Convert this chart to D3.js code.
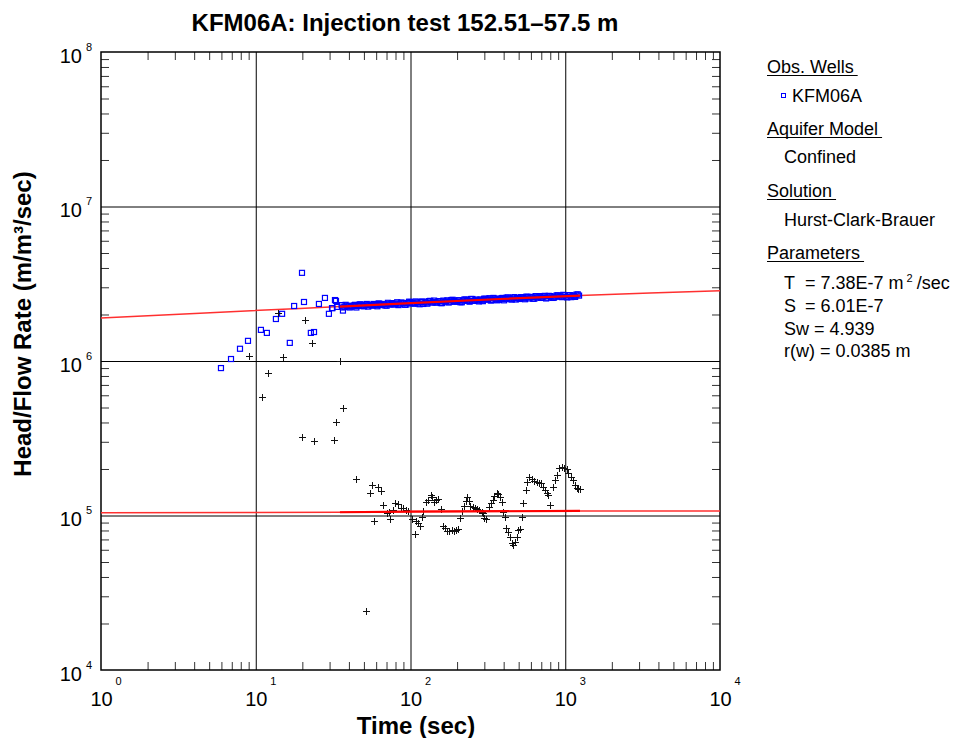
<!DOCTYPE html>
<html><head><meta charset="utf-8">
<script src="https://cdn.jsdelivr.net/npm/d3@7"></script>
<style>body{margin:0;background:#fff} svg{display:block} text{font-family:"Liberation Sans",Arial,sans-serif}</style>
</head><body>
<svg id="c" width="973" height="738"></svg>
<script>
// Observed head/flow rate (KFM06A) - time (sec)
const obsT = [5.96,6.92,7.91,8.91,10.8,11.8,13.5,14.8,16.6,17.7,19.9,20.5,22.7,23.8,25.6,28.0,29.7,31.1,31.3,32.5,33.0,33.5,36.0,36.6,
  36,37.4,38.9,40.5,42.1,43.8,45.6,47.4,49.3,51.2,53.3,55.4,57.6,59.9,62.3,64.8,67.4,70.1,72.9,75.8,78.9,82.0,85.3,88.7,92.3,96.0,99.8,103.8,
  108,112,117,121,126,131,137,142,148,154,160,166,173,180,187,194,202,210,219,227,236,246,256,266,277,288,299,311,324,337,350,364,379,394,
  410,426,443,461,479,498,518,539,561,583,606,631,656,682,709,738,767,798,830,863,898,934,971,1010,1050,1092,1136,1181,1228,
  36.7,38.1,39.7,41.3,42.9,44.7,46.5,48.3,50.2,52.2,54.3,56.5,58.7,61.1,63.5,66.1,68.7,71.5,74.3,77.3,80.4,83.6,87.0,90.5,94.1,97.9,101.8,105.9,
  110,114.5,119,123.5,128.5,134,139.5,145,151,157,163,169.5,176.5,183.5,190.5,198,206,214.5,223,231.5,241,251,261,271.5,282.5,293.5,305,317.5,330.5,343.5,357,371.5,386.5,
  402,418,434.5,452,470,488.5,508,528.5,550,572,594.5,618.5,643.5,669,695.5,723.5,752.5,782.5,814,846.5,880.5,916,952.5,990.5,1030,1071,1114,1158.5,1204.5];
const obsV = [9.0e5,1.03e6,1.20e6,1.35e6,1.59e6,1.52e6,1.87e6,2.02e6,1.31e6,2.27e6,3.72e6,2.41e6,1.52e6,1.54e6,2.34e6,2.56e6,2.02e6,2.20e6,2.20e6,2.48e6,2.45e6,2.24e6,2.30e6,2.12e6,
  2.30e6,2.24e6,2.28e6,2.22e6,2.27e6,2.31e6,2.27e6,2.33e6,2.27e6,2.31e6,2.25e6,2.30e6,2.34e6,2.30e6,2.36e6,2.30e6,2.34e6,2.28e6,2.33e6,2.37e6,2.33e6,2.40e6,2.33e6,2.38e6,2.31e6,2.37e6,2.41e6,2.36e6,
  2.43e6,2.36e6,2.41e6,2.34e6,2.39e6,2.44e6,2.39e6,2.46e6,2.39e6,2.44e6,2.37e6,2.42e6,2.47e6,2.42e6,2.49e6,2.42e6,2.47e6,2.40e6,2.46e6,2.50e6,2.45e6,2.52e6,2.45e6,2.50e6,2.43e6,2.49e6,2.53e6,2.49e6,2.55e6,2.48e6,2.54e6,2.47e6,2.52e6,2.56e6,
  2.52e6,2.58e6,2.51e6,2.57e6,2.50e6,2.55e6,2.59e6,2.55e6,2.61e6,2.54e6,2.60e6,2.53e6,2.58e6,2.63e6,2.58e6,2.64e6,2.57e6,2.63e6,2.56e6,2.61e6,2.66e6,2.61e6,2.68e6,2.60e6,2.66e6,2.59e6,2.64e6,2.69e6,2.65e6,
  2.22e6,2.31e6,2.26e6,2.25e6,2.29e6,2.22e6,2.31e6,2.29e6,2.26e6,2.34e6,2.30e6,2.28e6,2.33e6,2.26e6,2.34e6,2.33e6,2.29e6,2.38e6,2.33e6,2.32e6,2.36e6,2.30e6,2.39e6,2.37e6,2.32e6,2.42e6,2.37e6,2.35e6,
  2.40e6,2.33e6,2.43e6,2.40e6,2.35e6,2.45e6,2.40e6,2.39e6,2.43e6,2.37e6,2.46e6,2.43e6,2.39e6,2.48e6,2.44e6,2.42e6,2.47e6,2.40e6,2.50e6,2.47e6,2.42e6,2.52e6,2.47e6,2.46e6,2.50e6,2.44e6,2.53e6,2.51e6,2.46e6,2.56e6,2.51e6,2.49e6,2.55e6,
  2.47e6,2.57e6,2.54e6,2.50e6,2.59e6,2.55e6,2.52e6,2.58e6,2.51e6,2.60e6,2.58e6,2.53e6,2.63e6,2.58e6,2.56e6,2.62e6,2.54e6,2.64e6,2.61e6,2.57e6,2.66e6,2.62e6,2.59e6,2.66e6,2.58e6,2.67e6,2.65e6,2.60e6,2.70e6];
// Derivative (black crosses)
const derT = [9.04,10.97,12.0,13.9,15.0,19.9,20.8,23.1,23.8,32.0,33.0,35.0,36.6,44.4,51.6,54.7,56.4,58.1,61.7,64.5,66.4,70.5,72.6,73.7,77.1,79.4,83.1,86.8,89.4,93.5,96.3,
  102.2,106.9,108.5,111.8,115.2,118.7,120.4,126.0,129.8,135.7,137.7,141.9,146.1,150.5,157.4,162.2,167.1,172.2,177.4,185.4,191.0,196.8,202.7,208.9,215.2,221.7,228.4,231.8,238.8,242.4,253.4,261.1,269.0,277.1,289.8,294.1,298.5,307.5,
  321.6,331.3,341.3,346.4,362.2,367.7,378.8,390.2,396.0,408.0,414.1,426.6,439.5,452.8,459.6,473.4,487.7,495.0,510.0,525.4,533.3,557.7,566.0,583.2,609.8,628.3,656.9,676.9,697.3,718.4,740.0,762.4,773.8,797.1,
  833.4,858.6,884.5,911.3,952.8,981.5,1026,1042,1089,1122,1156,1191,1209,1245];
const derV = [1.08e6,5.85e5,8.36e5,2.05e6,1.06e6,3.22e5,1.84e6,1.31e6,3.04e5,3.08e5,4.03e5,1.0e6,4.96e5,1.72e5,2.41e4,1.40e5,1.58e5,9.21e4,1.53e5,1.44e5,1.17e5,1.04e5,1.05e5,9.49e4,1.09e5,1.20e5,1.19e5,1.12e5,1.12e5,1.09e5,1.07e5,
  9.49e4,7.59e4,9.21e4,8.94e4,8.55e4,9.78e4,1.07e5,1.22e5,1.26e5,1.36e5,1.32e5,1.22e5,1.26e5,1.28e5,1.10e5,8.55e4,8.30e4,7.94e4,7.94e4,8.06e4,7.94e4,8.06e4,8.18e4,9.63e4,1.07e5,1.15e5,1.24e5,1.32e5,1.24e5,1.15e5,1.14e5,1.12e5,1.10e5,1.09e5,1.05e5,1.04e5,9.63e4,9.49e4,
  1.14e5,1.20e5,1.26e5,1.34e5,1.40e5,1.38e5,1.32e5,1.22e5,1.05e5,9.78e4,8.30e4,7.82e4,7.26e4,6.64e4,6.44e4,6.74e4,7.26e4,8.06e4,8.18e4,9.78e4,1.20e5,1.46e5,1.65e5,1.77e5,1.72e5,1.67e5,1.65e5,1.62e5,1.62e5,1.53e5,1.46e5,1.40e5,1.36e5,1.17e5,
  1.53e5,1.70e5,1.83e5,2.03e5,2.06e5,2.03e5,2.0e5,1.88e5,1.77e5,1.70e5,1.58e5,1.51e5,1.48e5,1.48e5];
// Fitted type curve and its derivative (red)
const fitT = [1,4.36,19.3,35,85.5,379,1245,3529,10000];
const fitV = [1.90e6,2.04e6,2.19e6,2.25e6,2.35e6,2.52e6,2.65e6,2.75e6,2.85e6];
const dfitT = [1,35,100,1245,10000];
const dfitV = [1.04e5,1.05e5,1.06e5,1.07e5,1.07e5];
const dataRange = [35,1245];
// Axes
const xDecades = [1,10,100,1000,10000], xExp = ["0","1","2","3","4"];
const yDecades = [1e4,1e5,1e6,1e7,1e8], yExp = ["4","5","6","7","8"];
const title = "KFM06A: Injection test 152.51\u201357.5 m";
const xTitle = "Time (sec)", yTitle = "Head/Flow Rate (m/m\u00b3/sec)";

const svg = d3.select("#c");
const L=101,R=720,T=52,B=670;
const x = d3.scaleLog().domain([1,1e4]).range([L,R]);
const y = d3.scaleLog().domain([1e4,1e8]).range([B,T]);

const minorX=[], minorY=[];
xDecades.slice(0,-1).forEach(d=>{for(let m=2;m<10;m++)minorX.push(d*m);});
yDecades.slice(0,-1).forEach(d=>{for(let m=2;m<10;m++)minorY.push(d*m);});

function clean(g){g.select(".domain").remove();}
// grid lines
svg.append("g").attr("transform",`translate(0,${B})`)
  .call(d3.axisBottom(x).tickValues(xDecades.slice(1,-1)).tickSize(-(B-T)).tickFormat(""))
  .call(clean).selectAll("line").attr("stroke","#000").attr("stroke-width",1);
svg.append("g").attr("transform",`translate(${L},0)`)
  .call(d3.axisLeft(y).tickValues(yDecades.slice(1,-1)).tickSize(-(R-L)).tickFormat(""))
  .call(clean).selectAll("line").attr("stroke","#000").attr("stroke-width",1);
// minor ticks inward on all sides
const tk=8;
[[d3.axisBottom(x),`translate(0,${B})`,minorX],[d3.axisTop(x),`translate(0,${T})`,minorX],
 [d3.axisLeft(y),`translate(${L},0)`,minorY],[d3.axisRight(y),`translate(${R},0)`,minorY]].forEach(([ax,tr,vals])=>{
  svg.append("g").attr("transform",tr).call(ax.tickValues(vals).tickSize(-tk).tickFormat(""))
    .call(clean).selectAll("line").attr("stroke","#333").attr("stroke-width",1);
});
svg.append("rect").attr("x",L).attr("y",T).attr("width",R-L).attr("height",B-T)
  .attr("fill","none").attr("stroke","#000").attr("stroke-width",1.5);

// tick labels
const xl = svg.append("g").attr("transform",`translate(0,${B})`)
  .call(d3.axisBottom(x).tickValues(xDecades).tickSize(0).tickFormat("")).call(clean);
xl.selectAll(".tick").each(function(d,i){
  const g=d3.select(this);
  g.append("text").attr("x",0).attr("y",36).attr("text-anchor","middle").attr("font-size",20).attr("fill","#000").text("10");
  g.append("text").attr("x",14).attr("y",15).attr("text-anchor","start").attr("font-size",11).attr("fill","#000").text(xExp[i]);
});
const yl = svg.append("g").attr("transform",`translate(${L},0)`)
  .call(d3.axisLeft(y).tickValues(yDecades).tickSize(0).tickFormat("")).call(clean);
yl.selectAll(".tick").each(function(d,i){
  const g=d3.select(this);
  g.append("text").attr("x",-19).attr("y",10).attr("text-anchor","end").attr("font-size",20).attr("fill","#000").text("10");
  g.append("text").attr("x",-15).attr("y",-2).attr("text-anchor","start").attr("font-size",11).attr("fill","#000").text(yExp[i]);
});

// titles
svg.append("text").attr("x",405).attr("y",31).attr("text-anchor","middle").attr("font-size",24).attr("font-weight","bold").text(title);
svg.append("text").attr("x",416).attr("y",734).attr("text-anchor","middle").attr("font-size",24).attr("font-weight","bold").text(xTitle);
svg.append("text").attr("transform",`translate(31,324) rotate(-90)`).attr("text-anchor","middle").attr("font-size",24).attr("font-weight","bold").text(yTitle);

// clip
svg.append("clipPath").attr("id","clip").append("rect").attr("x",L).attr("y",T).attr("width",R-L).attr("height",B-T);
const plot = svg.append("g").attr("clip-path","url(#clip)");

const line = d3.line().x(d=>x(d[0])).y(d=>y(d[1]));
const fit = fitT.map((t,i)=>[t,fitV[i]]);
const dfit = dfitT.map((t,i)=>[t,dfitV[i]]);
plot.append("path").attr("d",line(fit)).attr("fill","none").attr("stroke","#ff3030").attr("stroke-width",1.5);
plot.append("path").attr("d",line(dfit)).attr("fill","none").attr("stroke","#ff3030").attr("stroke-width",1.5);

// observed squares
plot.append("g").selectAll("rect").data(obsT.map((t,i)=>[t,obsV[i]])).join("rect")
  .attr("x",d=>x(d[0])-2.5).attr("y",d=>y(d[1])-2.5).attr("width",5).attr("height",5)
  .attr("fill","none").attr("stroke","#0000ff").attr("stroke-width",1.2);
// derivative crosses
plot.append("g").selectAll("path").data(derT.map((t,i)=>[t,derV[i]])).join("path")
  .attr("d",d=>{const cx=Math.round(x(d[0]))+0.5, cy=Math.round(y(d[1]))+0.5; return `M${cx-3.5},${cy}H${cx+3.5}M${cx},${cy-3.5}V${cy+3.5}`;})
  .attr("stroke","#111").attr("stroke-width",1).attr("fill","none");

// bright red over data range
const inR = p=>p[0]>=dataRange[0]&&p[0]<=dataRange[1];
plot.append("path").attr("d",line(fit.filter(inR))).attr("fill","none").attr("stroke","#ff0000").attr("stroke-width",2.2);
plot.append("path").attr("d",line(dfit.filter(inR))).attr("fill","none").attr("stroke","#ff0000").attr("stroke-width",2.2);

// legend
const lg = svg.append("g").attr("font-size",18).attr("fill","#000");
function head(txt,yy){
  const t=lg.append("text").attr("x",767).attr("y",yy).text(txt);
  const len=t.node().getComputedTextLength();
  lg.append("line").attr("x1",767).attr("x2",767+len+4).attr("y1",yy+2.5).attr("y2",yy+2.5).attr("stroke","#000").attr("stroke-width",1);
}
head("Obs. Wells",73);
lg.append("rect").attr("x",781.5).attr("y",93.5).attr("width",4).attr("height",4).attr("fill","#fff").attr("stroke","#0000ff").attr("stroke-width",1);
lg.append("text").attr("x",792).attr("y",102).text("KFM06A");
head("Aquifer Model",135);
lg.append("text").attr("x",784).attr("y",163).text("Confined");
head("Solution",197);
lg.append("text").attr("x",784).attr("y",226).text("Hurst-Clark-Brauer");
head("Parameters",259);
const p1=lg.append("text").attr("y",289);
p1.append("tspan").attr("x",784).text("T");
p1.append("tspan").attr("x",805).text("= 7.38E-7 m");
p1.append("tspan").attr("dx",3).attr("dy",-7).attr("font-size",11).text("2");
p1.append("tspan").attr("dx",4).attr("dy",7).text("/sec");
const p2=lg.append("text").attr("y",312);
p2.append("tspan").attr("x",784).text("S");
p2.append("tspan").attr("x",805).text("= 6.01E-7");
const p3=lg.append("text").attr("y",335);
p3.append("tspan").attr("x",784).text("Sw");
p3.append("tspan").attr("x",814).text("= 4.939");
const p4=lg.append("text").attr("y",357);
p4.append("tspan").attr("x",784).text("r(w) = 0.0385 m");
</script>
</body></html>
